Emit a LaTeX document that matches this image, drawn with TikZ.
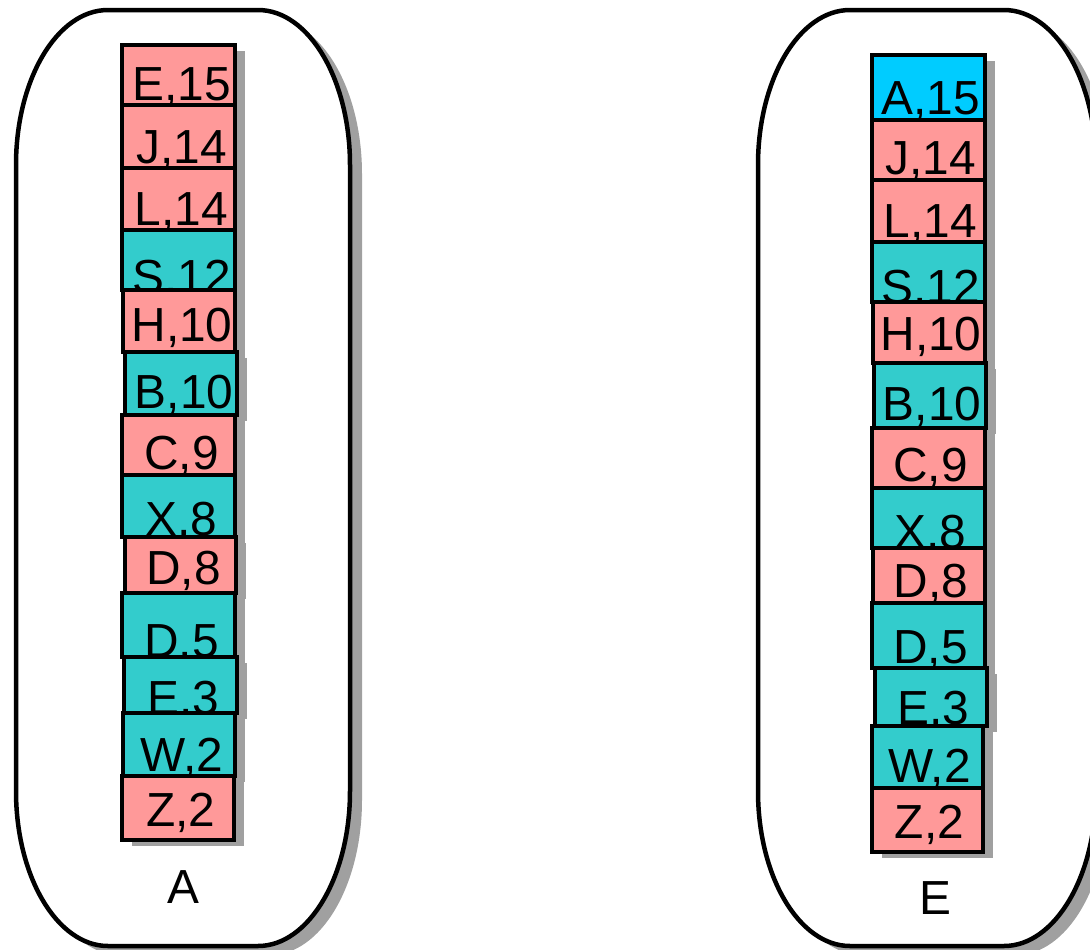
\documentclass[tikz,border=0pt]{standalone}
\usepackage{fontspec}
\setmainfont{Liberation Sans}
\usetikzlibrary{shadows}
\definecolor{cellpink}{RGB}{255,153,153}
\definecolor{cellteal}{RGB}{51,204,204}
\definecolor{cellcyan}{RGB}{0,204,255}
\definecolor{shadowgrey}{RGB}{160,160,160}
\begin{document}
\begin{tikzpicture}[x=1bp,y=-1bp,
  cell/.style={draw=black, line width=4bp, inner sep=0pt, outer sep=0pt,
    drop shadow={shadow xshift=10bp, shadow yshift=-6bp, fill=shadowgrey, opacity=1, draw=none}},
  txt/.style={font=\fontsize{48}{52}\selectfont, inner sep=0pt, text=black},
  frame/.style={draw=black, line width=4.5bp, fill=white},
  frameshadow/.style={fill=shadowgrey, draw=none}]
\useasboundingbox (0,0) rectangle (1090,950);
\clip (0,0) rectangle (1090,950);

% rounded container outline: left x, right x, top y, bottom y
\newcommand{\container}[5][]{%
  \path[#1] (#2,165) arc[start angle=180,end angle=270,x radius=92,y radius=155]
    -- ({#3-92},#4) arc[start angle=270,end angle=360,x radius=92,y radius=155]
    -- (#3,{#5-155}) arc[start angle=0,end angle=90,x radius=92,y radius=155]
    -- ({#2+92},#5) arc[start angle=90,end angle=180,x radius=92,y radius=155]
    -- cycle;}

\begin{scope}[shift={(12,9)}]
  \container[frameshadow]{16}{350}{10}{946}
  \container[frameshadow]{758}{1096}{10}{946}
\end{scope}
\container[frame]{16}{350}{10}{946}
\container[frame]{758}{1096}{10}{946}

% left stack
\foreach \n/\xa/\xb/\ya/\yb/\c/\bl/\s in {
  L1/122/235/45/105/cellpink/100/{E,15},
  L2/122/235/105/168/cellpink/163/{J,14},
  L3/122/235/168/230/cellpink/225/{L,14},
  L4/122/235/230/290/cellteal/293/{S,12},
  L5/123/235/290/352/cellpink/341/{H,10},
  L6/125/237/352/415/cellteal/408/{B,10},
  L7/122/235/415/475/cellpink/469/{C,9},
  L8/122/235/475/537/cellteal/535/{X,8},
  L9/125/236/537/593/cellpink/584/{D,8},
  L10/122/235/593/657/cellteal/657/{D,5},
  L11/124/237/657/713/cellteal/714/{E,3},
  L12/123/235/713/776/cellteal/771/{W,2},
  L13/122/234/776/840/cellpink/826/{Z,2}}{
  \node[cell, fill=\c, minimum width={(\xb-\xa)*1bp}, minimum height={(\yb-\ya)*1bp}]
    (\n) at ({(\xa+\xb)/2},{(\ya+\yb)/2}) {};
  \node[txt, anchor=base] (\n-lab) at ({(\xa+\xb)/2+3},\bl) {\s};
}

% right stack
\foreach \n/\xa/\xb/\ya/\yb/\c/\bl/\s in {
  R1/872/985/55/120/cellcyan/114/{A,15},
  R2/872/985/120/180/cellpink/174/{J,14},
  R3/872/985/180/242/cellpink/237/{L,14},
  R4/872/985/242/302/cellteal/303/{S,12},
  R5/873/985/302/363/cellpink/350/{H,10},
  R6/874/986/363/428/cellteal/420/{B,10},
  R7/872/985/428/488/cellpink/481/{C,9},
  R8/872/985/488/548/cellteal/548/{X,8},
  R9/873/985/548/603/cellpink/597/{D,8},
  R10/872/985/603/668/cellteal/663/{D,5},
  R11/875/987/668/726/cellteal/724/{E,3},
  R12/872/983/726/788/cellteal/782/{W,2},
  R13/872/983/788/852/cellpink/838/{Z,2}}{
  \node[cell, fill=\c, minimum width={(\xb-\xa)*1bp}, minimum height={(\yb-\ya)*1bp}]
    (\n) at ({(\xa+\xb)/2},{(\ya+\yb)/2}) {};
  \node[txt, anchor=base] (\n-lab) at ({(\xa+\xb)/2+2},\bl) {\s};
}

% container names
\node[txt, anchor=base] (nameA) at (183,903) {A};
\node[txt, anchor=base] (nameE) at (935,914) {E};
\end{tikzpicture}
\end{document}
